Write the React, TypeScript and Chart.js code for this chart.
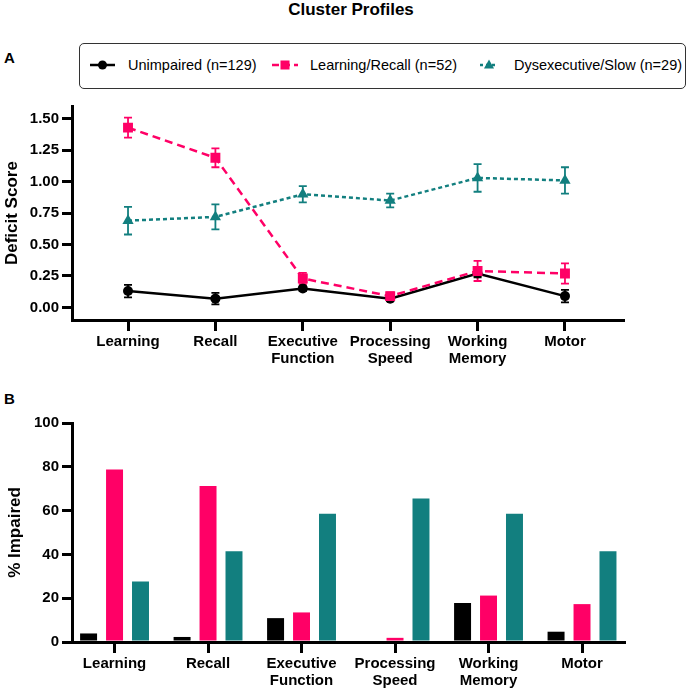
import React, { useEffect, useRef } from 'react';
import { Chart, registerables } from 'chart.js';

Chart.register(...registerables);

const FONT = '"Liberation Sans", Arial, Helvetica, sans-serif';
Chart.defaults.font.family = FONT;
Chart.defaults.color = '#000';

// categories (multi-line tick labels)
const categories: string[][] = [
  ['Learning'],
  ['Recall'],
  ['Executive', 'Function'],
  ['Processing', 'Speed'],
  ['Working', 'Memory'],
  ['Motor'],
];

const seriesNames = ['Unimpaired (n=129)', 'Learning/Recall (n=52)', 'Dysexecutive/Slow (n=29)'];

// panel A: mean deficit score and error (+/-)
const unimpairedScore = [0.13, 0.07, 0.15, 0.07, 0.27, 0.09];
const unimpairedErr = [0.05, 0.045, 0.02, 0.02, 0.03, 0.05];
const learningScore = [1.43, 1.19, 0.23, 0.09, 0.29, 0.27];
const learningErr = [0.08, 0.075, 0.045, 0.03, 0.08, 0.08];
const dysexecScore = [0.69, 0.72, 0.9, 0.85, 1.03, 1.01];
const dysexecErr = [0.11, 0.1, 0.065, 0.055, 0.11, 0.105];

// panel B: % impaired
const unimpairedPct = [3.9, 2.3, 10.9, 0, 17.8, 4.7];
const learningPct = [78.8, 71.2, 13.5, 1.9, 21.2, 17.3];
const dysexecPct = [27.6, 41.4, 58.6, 65.5, 58.6, 41.4];

// tick labels
const scoreTicks = [0, 0.25, 0.5, 0.75, 1.0, 1.25, 1.5];
const pctTicks = [0, 20, 40, 60, 80, 100];
const categoryTicks = [0, 1, 2, 3, 4, 5];

const BLACK = '#000000';
const PINK = '#ff0066';
const TEAL = '#127f7f';

const toPoints = (vals: number[]) => vals.map((y, i) => ({ x: i, y }));

const tickFont = { size: 15, weight: 'bold' as const, lineHeight: 1.1 };
const axisBorder = { display: true, color: '#000', width: 3 };
const tickMarks = { display: true, drawOnChartArea: false, drawTicks: true, color: '#000', lineWidth: 3, tickLength: 10, offset: false };

// 오차 막대
const errorBarPlugin = {
  id: 'errorBars',
  beforeDatasetsDraw(chart: any) {
    const { ctx } = chart;
    const y = chart.scales.y;
    chart.data.datasets.forEach((ds: any, i: number) => {
      if (!ds.errors) return;
      const meta = chart.getDatasetMeta(i);
      ctx.save();
      ctx.strokeStyle = ds.borderColor;
      ctx.lineWidth = 1.8;
      meta.data.forEach((pt: any, j: number) => {
        const v = ds.data[j].y;
        const e = ds.errors[j];
        const top = y.getPixelForValue(v + e);
        const bot = y.getPixelForValue(v - e);
        ctx.beginPath();
        ctx.moveTo(pt.x, top);
        ctx.lineTo(pt.x, bot);
        ctx.moveTo(pt.x - 4, top);
        ctx.lineTo(pt.x + 4, top);
        ctx.moveTo(pt.x - 4, bot);
        ctx.lineTo(pt.x + 4, bot);
        ctx.stroke();
      });
      ctx.restore();
    });
  },
};

const ProfileLineChart: React.FC = () => {
  const chartRef = useRef<HTMLCanvasElement>(null);

  useEffect(() => {
    if (!chartRef.current) return;
    const chart = new Chart(chartRef.current, {
      type: 'line',
      data: {
        datasets: [
          {
            label: seriesNames[0],
            data: toPoints(unimpairedScore),
            errors: unimpairedErr,
            borderColor: BLACK,
            backgroundColor: BLACK,
            borderWidth: 2.5,
            pointStyle: 'circle',
            pointRadius: 5,
            pointBorderWidth: 0,
            order: 1,
          },
          {
            label: seriesNames[1],
            data: toPoints(learningScore),
            errors: learningErr,
            borderColor: PINK,
            backgroundColor: PINK,
            borderWidth: 2.5,
            borderDash: [8, 5],
            pointStyle: 'rect',
            pointRadius: 7,
            pointBorderWidth: 0,
            order: 0,
          },
          {
            label: seriesNames[2],
            data: toPoints(dysexecScore),
            errors: dysexecErr,
            borderColor: TEAL,
            backgroundColor: TEAL,
            borderWidth: 2.5,
            borderDash: [4, 3],
            pointStyle: 'triangle',
            pointRadius: 6.5,
            pointBorderWidth: 0,
            order: 2,
          },
        ] as any,
      },
      options: {
        animation: false,
        responsive: true,
        maintainAspectRatio: false,
        events: [],
        layout: { padding: { top: 7, right: 65, left: 0, bottom: 0 } },
        plugins: { legend: { display: false }, tooltip: { enabled: false } },
        scales: {
          x: {
            type: 'linear',
            min: -0.641,
            max: 5.664,
            border: axisBorder,
            grid: { ...tickMarks, tickLength: 11 },
            afterBuildTicks: (s: any) => {
              s.ticks = categoryTicks.map((v) => ({ value: v }));
            },
            afterFit: (s: any) => {
              s.height = 55;
            },
            ticks: {
              autoSkip: false,
              maxRotation: 0,
              padding: 3,
              font: tickFont,
              callback: (v: any) => categories[v] ?? '',
            },
          },
          y: {
            min: -0.1,
            max: 1.6,
            border: axisBorder,
            grid: tickMarks,
            afterBuildTicks: (s: any) => {
              s.ticks = scoreTicks.map((v) => ({ value: v }));
            },
            afterFit: (s: any) => {
              s.width = 72;
            },
            ticks: {
              padding: 3,
              font: tickFont,
              callback: (v: any) => Number(v).toFixed(2),
            },
            title: {
              display: true,
              text: 'Deficit Score',
              font: { size: 17, weight: 'bold' },
              padding: { top: 2, bottom: 0 },
            },
          },
        },
      } as any,
      plugins: [errorBarPlugin],
    });

    return () => {
      chart.destroy();
    };
  }, []);

  return (
    <div style={{ position: 'absolute', left: 0, top: 95, width: 688, height: 280 }}>
      <canvas ref={chartRef}></canvas>
    </div>
  );
};

const ImpairedBarChart: React.FC = () => {
  const chartRef = useRef<HTMLCanvasElement>(null);

  useEffect(() => {
    if (!chartRef.current) return;
    const chart = new Chart(chartRef.current, {
      type: 'bar',
      data: {
        datasets: [
          { label: seriesNames[0], data: toPoints(unimpairedPct), backgroundColor: BLACK },
          { label: seriesNames[1], data: toPoints(learningPct), backgroundColor: PINK },
          { label: seriesNames[2], data: toPoints(dysexecPct), backgroundColor: TEAL },
        ],
      },
      options: {
        animation: false,
        responsive: true,
        maintainAspectRatio: false,
        events: [],
        layout: { padding: { top: 43, right: 64, left: 0, bottom: 0 } },
        plugins: { legend: { display: false }, tooltip: { enabled: false } },
        datasets: { bar: { categoryPercentage: 0.833, barPercentage: 0.654, borderWidth: 0 } },
        scales: {
          x: {
            type: 'linear',
            min: -0.455,
            max: 5.449,
            offset: false,
            border: axisBorder,
            grid: { ...tickMarks, tickLength: 11 },
            afterBuildTicks: (s: any) => {
              s.ticks = categoryTicks.map((v) => ({ value: v }));
            },
            afterFit: (s: any) => {
              s.height = 50;
            },
            ticks: {
              autoSkip: false,
              maxRotation: 0,
              padding: 3,
              font: tickFont,
              callback: (v: any) => categories[v] ?? '',
            },
          },
          y: {
            min: 0,
            max: 100,
            border: axisBorder,
            grid: tickMarks,
            afterBuildTicks: (s: any) => {
              s.ticks = pctTicks.map((v) => ({ value: v }));
            },
            afterFit: (s: any) => {
              s.width = 72;
            },
            ticks: { padding: 3, font: tickFont },
            title: {
              display: true,
              text: '% Impaired',
              font: { size: 17, weight: 'bold' },
              padding: { top: 5, bottom: 0 },
            },
          },
        },
      } as any,
    });

    return () => {
      chart.destroy();
    };
  }, []);

  return (
    <div style={{ position: 'absolute', left: 0, top: 380, width: 688, height: 312 }}>
      <canvas ref={chartRef}></canvas>
    </div>
  );
};

const LegendSample: React.FC<{ kind: number; left: number; width: number }> = ({ kind, left, width }) => {
  const cy = 9;
  const mid = width / 2;
  return (
    <svg
      width={width}
      height={18}
      style={{ position: 'absolute', left, top: 56 }}
    >
      {kind === 0 && (
        <>
          <line x1={0} y1={cy} x2={width} y2={cy} stroke={BLACK} strokeWidth={2.5} />
          <circle cx={mid} cy={cy} r={4.5} fill={BLACK} />
        </>
      )}
      {kind === 1 && (
        <>
          <line x1={0} y1={cy} x2={width} y2={cy} stroke={PINK} strokeWidth={2.5} strokeDasharray="7 4" />
          <rect x={mid - 4.5} y={cy - 4.5} width={9} height={9} fill={PINK} />
        </>
      )}
      {kind === 2 && (
        <>
          <line x1={0} y1={cy} x2={width} y2={cy} stroke={TEAL} strokeWidth={2.5} strokeDasharray="3 3" />
          <polygon points={`${mid},${cy - 5.5} ${mid + 5},${cy + 3.5} ${mid - 5},${cy + 3.5}`} fill={TEAL} />
        </>
      )}
    </svg>
  );
};

const legendText: React.CSSProperties = {
  position: 'absolute',
  top: 56,
  fontSize: 14.5,
  lineHeight: '18px',
  whiteSpace: 'nowrap',
  color: '#000',
};

const App: React.FC = () => {
  return (
    <div
      style={{
        position: 'fixed',
        left: 0,
        top: 0,
        width: 688,
        height: 692,
        background: '#fff',
        fontFamily: FONT,
        overflow: 'hidden',
      }}
    >
      <div
        style={{
          position: 'absolute',
          left: 0,
          top: 0,
          width: 702,
          textAlign: 'center',
          fontSize: 17,
          fontWeight: 'bold',
          lineHeight: '19px',
        }}
      >
        Cluster Profiles
      </div>
      <div style={{ position: 'absolute', left: 4, top: 49, fontSize: 15, fontWeight: 'bold', lineHeight: '18px' }}>A</div>
      <div style={{ position: 'absolute', left: 4, top: 390, fontSize: 15, fontWeight: 'bold', lineHeight: '18px' }}>B</div>

      <div
        style={{
          position: 'absolute',
          left: 79,
          top: 43,
          width: 607,
          height: 46,
          boxSizing: 'border-box',
          border: '1.5px solid #333',
          borderRadius: 5,
        }}
      />
      <LegendSample kind={0} left={90} width={25} />
      <div style={{ ...legendText, left: 128 }}>{seriesNames[0]}</div>
      <LegendSample kind={1} left={272} width={26} />
      <div style={{ ...legendText, left: 310 }}>{seriesNames[1]}</div>
      <LegendSample kind={2} left={480} width={18} />
      <div style={{ ...legendText, left: 514 }}>{seriesNames[2]}</div>

      <ProfileLineChart />
      <ImpairedBarChart />
    </div>
  );
};

export default App;
